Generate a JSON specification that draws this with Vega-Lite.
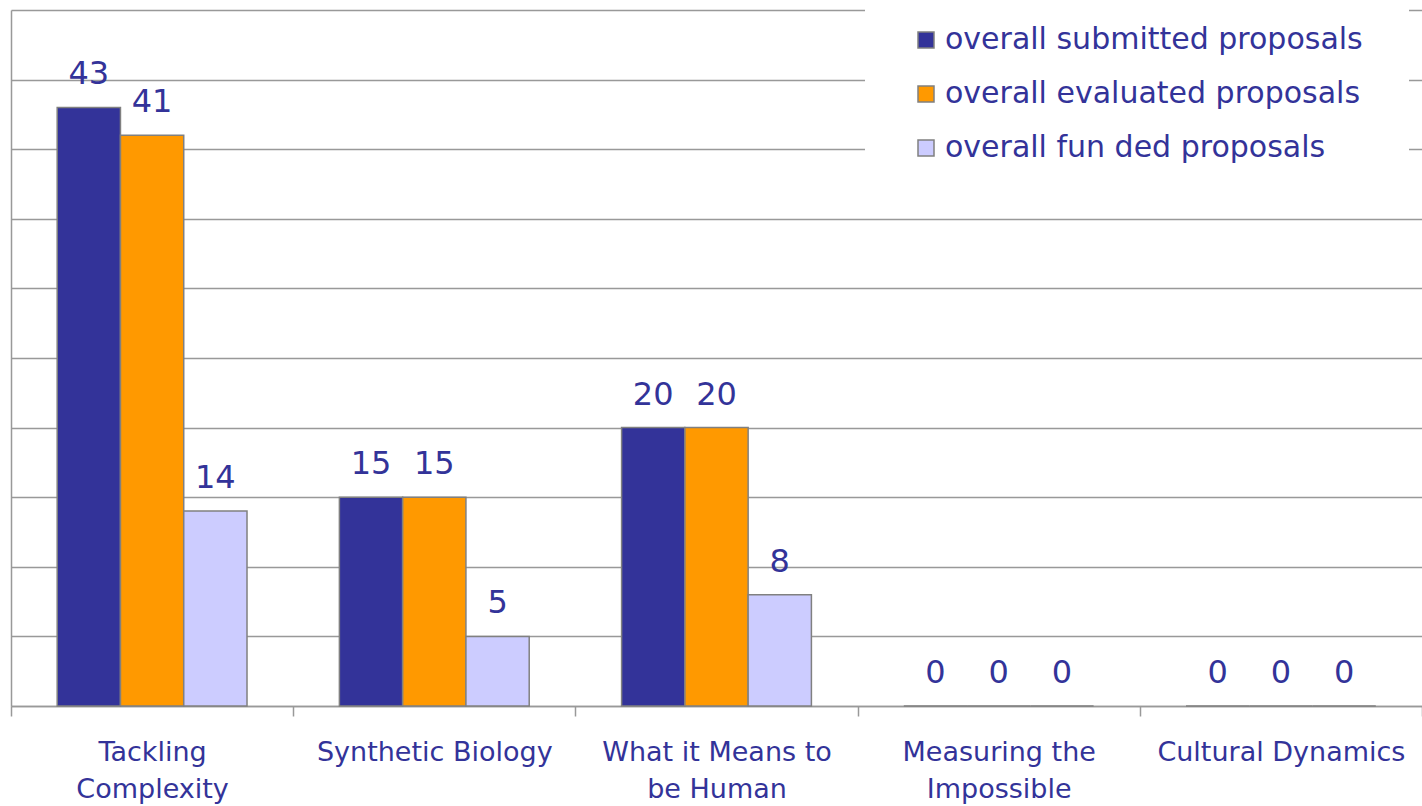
{
  "$schema": "https://vega.github.io/schema/vega-lite/v6.json",
  "width": 1411,
  "height": 696,
  "autosize": {"type": "none"},
  "padding": {"left": 11, "top": 10, "right": 0, "bottom": 100},
  "config": {"view": {"stroke": null}, "font": "DejaVu Sans"},
  "data": {
    "values": [
      {"theme": "Tackling Complexity", "series": "overall submitted proposals", "count": 43},
      {"theme": "Tackling Complexity", "series": "overall evaluated proposals", "count": 41},
      {"theme": "Tackling Complexity", "series": "overall fun ded proposals", "count": 14},
      {"theme": "Synthetic Biology", "series": "overall submitted proposals", "count": 15},
      {"theme": "Synthetic Biology", "series": "overall evaluated proposals", "count": 15},
      {"theme": "Synthetic Biology", "series": "overall fun ded proposals", "count": 5},
      {"theme": "What it Means to be Human", "series": "overall submitted proposals", "count": 20},
      {"theme": "What it Means to be Human", "series": "overall evaluated proposals", "count": 20},
      {"theme": "What it Means to be Human", "series": "overall fun ded proposals", "count": 8},
      {"theme": "Measuring the Impossible", "series": "overall submitted proposals", "count": 0},
      {"theme": "Measuring the Impossible", "series": "overall evaluated proposals", "count": 0},
      {"theme": "Measuring the Impossible", "series": "overall fun ded proposals", "count": 0},
      {"theme": "Cultural Dynamics", "series": "overall submitted proposals", "count": 0},
      {"theme": "Cultural Dynamics", "series": "overall evaluated proposals", "count": 0},
      {"theme": "Cultural Dynamics", "series": "overall fun ded proposals", "count": 0}
    ]
  },
  "encoding": {
    "x": {
      "field": "theme",
      "type": "nominal",
      "sort": ["Tackling Complexity", "Synthetic Biology", "What it Means to be Human", "Measuring the Impossible", "Cultural Dynamics"],
      "scale": {"paddingInner": 0, "paddingOuter": 0},
      "axis": {
        "title": null,
        "labelAngle": 0,
        "labelFontSize": 27,
        "labelColor": "#333399",
        "labelBaseline": "top",
        "labelLineHeight": 37,
        "labelPadding": 23,
        "labelLimit": 400,
        "labelExpr": "datum.label == 'Tackling Complexity' ? ['Tackling', 'Complexity'] : datum.label == 'What it Means to be Human' ? ['What it Means to', 'be Human'] : datum.label == 'Measuring the Impossible' ? ['Measuring the', 'Impossible'] : datum.label",
        "domainColor": "#999999",
        "domainWidth": 1.5,
        "tickBand": "extent",
        "tickSize": 10,
        "tickColor": "#999999",
        "tickWidth": 1.5
      }
    },
    "xOffset": {
      "field": "series",
      "type": "nominal",
      "sort": ["overall submitted proposals", "overall evaluated proposals", "overall fun ded proposals"],
      "scale": {"paddingInner": 0, "paddingOuter": 0.73}
    },
    "y": {
      "field": "count",
      "type": "quantitative",
      "scale": {"domain": [0, 50], "nice": false},
      "axis": {
        "title": null,
        "labels": false,
        "ticks": false,
        "values": [0, 5, 10, 15, 20, 25, 30, 35, 40, 45, 50],
        "grid": true,
        "gridColor": "#999999",
        "gridWidth": 1.5,
        "domainColor": "#999999",
        "domainWidth": 1.5
      }
    }
  },
  "layer": [
    {
      "mark": {"type": "bar", "stroke": "#808080", "strokeWidth": 1.5},
      "encoding": {
        "color": {
          "field": "series",
          "type": "nominal",
          "sort": ["overall submitted proposals", "overall evaluated proposals", "overall fun ded proposals"],
          "scale": {
            "domain": ["overall submitted proposals", "overall evaluated proposals", "overall fun ded proposals"],
            "range": ["#333399", "#FF9900", "#CCCCFF"]
          },
          "legend": {
            "title": null,
            "orient": "none",
            "legendX": 854,
            "legendY": -31,
            "fillColor": "white",
            "padding": 46,
            "symbolType": "square",
            "symbolSize": 256,
            "symbolStrokeColor": "#808080",
            "symbolStrokeWidth": 1.5,
            "labelFontSize": 30,
            "labelColor": "#333399",
            "labelOffset": 4,
            "labelLimit": 600,
            "rowPadding": 24
          }
        }
      }
    },
    {
      "mark": {"type": "text", "baseline": "alphabetic", "dy": -23, "fontSize": 32, "color": "#333399"},
      "encoding": {"text": {"field": "count", "type": "quantitative"}}
    }
  ]
}
